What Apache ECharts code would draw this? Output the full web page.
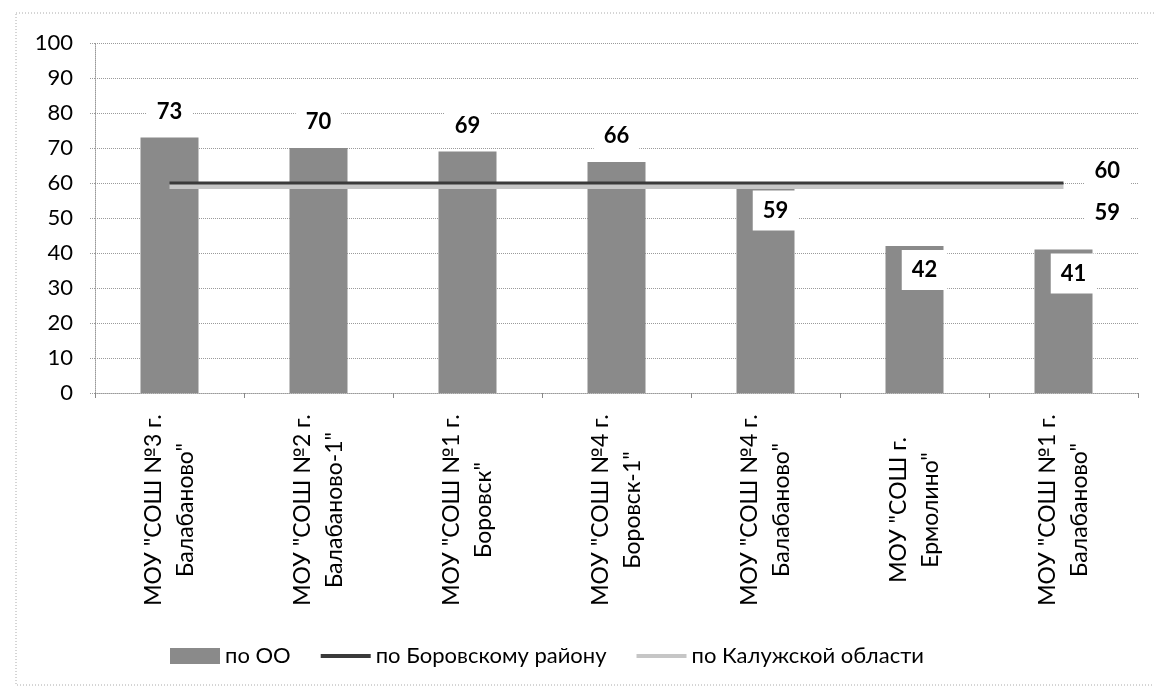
<!DOCTYPE html>
<html>
<head>
<meta charset="utf-8">
<script src="https://cdn.jsdelivr.net/npm/echarts@6/dist/echarts.min.js"></script>
<style>
  html, body { margin: 0; padding: 0; background: #fff; }
  #chart { width: 1154px; height: 699px; }
</style>
</head>
<body>
<div id="chart"></div>
<script>
// данные
const categories = [
  'МОУ "СОШ №3 г. Балабаново"',
  'МОУ "СОШ №2 г. Балабаново-1"',
  'МОУ "СОШ №1 г. Боровск"',
  'МОУ "СОШ №4 г. Боровск-1"',
  'МОУ "СОШ №4 г. Балабаново"',
  'МОУ "СОШ г. Ермолино"',
  'МОУ "СОШ №1 г. Балабаново"'
];
const schoolValues = [73, 70, 69, 66, 59, 42, 41];
const districtValues = [60, 60, 60, 60, 60, 60, 60];
const regionValues = [59, 59, 59, 59, 59, 59, 59];
const seriesNames = ['по ОО', 'по Боровскому району', 'по Калужской области'];

const chart = echarts.init(document.getElementById('chart'));

const labelBase = {
  show: true,
  fontSize: 22,
  fontWeight: 'bold',
  color: '#000',
  backgroundColor: '#fff',
  padding: [9, 10]
};

// первые четыре подписи над столбцами, остальные внутри
const barData = schoolValues.map((v, i) => ({
  value: v,
  label: i < 4
    ? Object.assign({}, labelBase, { position: 'top', distance: 6 })
    : Object.assign({}, labelBase, { position: 'insideTop', distance: 4, offset: [10, 0] })
}));

const dotted = { color: '#9a9a9a', type: 'dotted', width: 1 };
const lineIcon = 'path://M0,0 L50,0 L50,4 L0,4 Z';

const option = {
  animation: false,
  textStyle: { fontFamily: 'Lato, "Liberation Sans", sans-serif' },
  graphic: [{
    type: 'rect',
    shape: { x: 16, y: 13, width: 1150, height: 672 },
    style: { fill: 'none', stroke: '#aaa', lineWidth: 1, lineDash: [1, 2] },
    silent: true
  }],
  grid: { left: 95, right: 16, top: 43, bottom: 306 },
  legend: {
    left: 165,
    top: 640,
    itemWidth: 50,
    itemHeight: 16,
    itemGap: 30,
    symbolKeepAspect: true,
    textStyle: { fontSize: 22, color: '#000' },
    data: [
      { name: seriesNames[0], icon: 'rect' },
      { name: seriesNames[1], icon: lineIcon },
      { name: seriesNames[2], icon: lineIcon }
    ]
  },
  xAxis: {
    type: 'category',
    data: categories,
    axisLine: { lineStyle: dotted },
    axisTick: { show: true, length: 5, lineStyle: { color: '#888' } },
    axisLabel: {
      rotate: 90,
      align: 'center',
      verticalAlign: 'middle',
      margin: 117,
      fontSize: 23,
      lineHeight: 32,
      color: '#000',
      interval: 0,
      formatter: name => name.replace(' г. ', ' г.\n')
    }
  },
  yAxis: {
    type: 'value',
    min: 0,
    max: 100,
    interval: 10,
    axisLine: { show: true, lineStyle: dotted },
    axisTick: { show: true, length: 5, lineStyle: dotted },
    axisLabel: { fontSize: 22, color: '#000', margin: 22 },
    splitLine: { lineStyle: dotted }
  },
  series: [
    {
      name: seriesNames[0],
      type: 'bar',
      barWidth: 58,
      itemStyle: { color: '#8a8a8a' },
      data: barData,
      z: 2
    },
    {
      name: seriesNames[2],
      type: 'line',
      symbol: 'none',
      lineStyle: { color: '#c6c6c6', width: 5 },
      itemStyle: { color: '#c6c6c6' },
      data: regionValues,
      endLabel: Object.assign({}, labelBase, { distance: 5, offset: [16, 26], formatter: '{c}' }),
      z: 3
    },
    {
      name: seriesNames[1],
      type: 'line',
      symbol: 'none',
      lineStyle: { color: '#3a3a3a', width: 3 },
      itemStyle: { color: '#3a3a3a' },
      data: districtValues,
      endLabel: Object.assign({}, labelBase, { distance: 5, offset: [16, -12], formatter: '{c}' }),
      z: 4
    }
  ]
};

chart.setOption(option);

window.addEventListener('resize', () => {
  chart.resize();
});
</script>
</body>
</html>
